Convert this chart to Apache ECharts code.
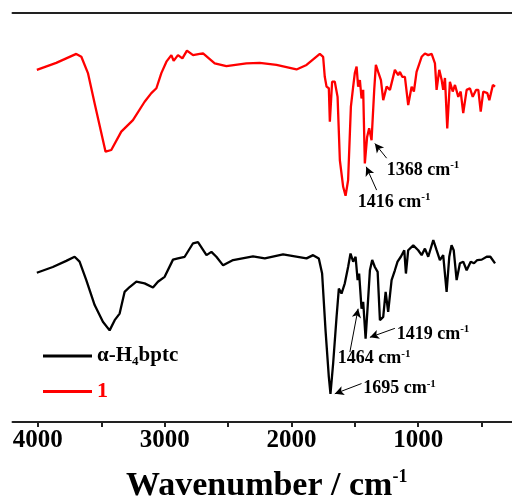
<!DOCTYPE html>
<html><head><meta charset="utf-8">
<script src="https://cdn.jsdelivr.net/npm/echarts@6/dist/echarts.min.js"></script>
<style>html,body{margin:0;padding:0;background:#fff}#c{width:512px;height:497px}</style>
</head><body><div id="c"></div>
<script>
// Wavenumber (cm-1) and relative transmittance (a.u.)
const redWn = [4008,3855,3697,3657,3605,3552,3499,3466,3421,3342,3250,3158,3105,3065,3026,2986,2947,2929,2895,2860,2824,2776,2723,2697,2605,2513,2355,2250,2118,1960,1881,1776,1750,1737,1723,1705,1697,1679,1658,1636,1618,1592,1573,1553,1531,1513,1500,1486,1474,1460,1447,1434,1421,1403,1387,1368,1347,1334,1316,1294,1276,1249,1223,1184,1158,1144,1126,1105,1079,1052,1034,1013,973,947,921,894,868,855,834,815,803,789,771,750,728,710,684,665,645,618,592,570,544,526,507,487,455,439,411,394];
const redT  = [86.1,87.8,90.0,89.3,85.3,77.9,70.6,66.1,66.5,71.0,73.8,78.3,80.4,81.6,85.3,88.1,89.7,88.3,89.7,88.9,90.8,89.7,90.0,90.1,87.7,87.0,87.7,87.8,87.3,86.2,87.3,90.0,89.3,84.4,82.0,81.6,73.4,83.2,83.2,79.5,64.0,57.5,55.3,59.1,77.1,82.0,85.3,86.9,82.0,83.6,79.1,81.2,63.2,69.7,71.8,68.9,81.2,87.3,85.6,83.6,78.7,82.0,81.2,86.1,84.8,85.6,84.4,84.4,77.5,82.0,80.8,85.6,89.3,90.1,89.7,90.0,87.7,81.2,86.1,83.6,81.2,84.1,71.8,83.2,80.8,82.4,79.5,80.8,75.5,81.2,81.6,79.5,81.2,81.2,75.9,80.8,80.4,78.7,82.4,82.0];
const blackWn = [4008,3882,3776,3710,3671,3618,3552,3487,3434,3394,3355,3316,3276,3223,3158,3092,3053,3000,2934,2895,2842,2776,2737,2670,2631,2592,2539,2460,2303,2210,2066,1881,1829,1784,1758,1731,1705,1692,1671,1644,1626,1605,1579,1553,1534,1513,1494,1478,1466,1447,1434,1415,1399,1381,1363,1342,1320,1302,1276,1257,1237,1210,1184,1163,1137,1110,1097,1079,1039,1000,973,947,921,881,855,829,803,776,755,737,720,697,671,645,618,586,560,534,499,460,431,394];
const blackT  = [36.5,37.9,39.4,40.4,39.2,34.7,28.6,24.5,22.4,24.9,26.5,31.8,33.0,34.3,33.9,32.9,34.3,35.5,39.7,40.0,40.4,43.7,44.0,40.8,41.6,40.4,38.3,39.6,40.5,40.0,41.0,40.0,40.8,40.0,36.3,22.4,11.0,6.9,14.3,25.7,32.6,31.4,33.9,37.9,41.2,39.2,40.4,34.7,36.3,27.7,29.4,20.4,28.1,37.1,39.6,37.9,36.7,24.9,25.7,31.8,26.9,34.7,37.1,39.2,40.4,42.0,36.3,42.0,43.2,42.0,40.8,42.4,40.4,44.5,42.0,39.6,40.8,31.8,40.4,43.2,42.0,34.7,38.8,39.2,37.1,39.2,38.8,39.6,39.7,40.4,40.4,38.8];
const seriesNames = ['α-H4bptc', '1'];
const xTickValues = [500,1000,1500,2000,2500,3000,3500,4000];
const xLabelValues = [1000,2000,3000,4000];
// annotations: label text, label anchor [wn, T], arrow tail [wn, T], arrow head [wn, T]
const annoText = ['1368','1416','1419','1464','1695'];
const annoPos  = [[1249,61.6],[1476,53.8],[1170,21.5],[1634,15.5],[1434,8.2]];
const arrowFrom = [[1249,64.5],[1328,56.7],[1184,22.9],[1539,17.1],[1447,9.4]];
const arrowTo   = [[1342,68.1],[1410,62.4],[1381,20.7],[1474,27.7],[1658,6.9]];

const serif = '"Liberation Serif","DejaVu Serif",serif';
const chart = echarts.init(document.getElementById('c'));
const zip = (a,b) => a.map((v,i)=>[v,b[i]]);
chart.setOption({
  animation: false,
  backgroundColor: '#fff',
  grid: {left: 12.5, top: 13, bottom: 75, width: 532.5, containLabel: false, outerBoundsMode: 'none'},
  legend: {
    orient: 'vertical', left: 38, top: 340.5, padding: 5, itemWidth: 49, itemHeight: 3, itemGap: 12,
    icon: 'rect',
    data: seriesNames,
    formatter: n => n === seriesNames[0] ? '{a|α-H}{sub|4}{a|bptc}' : '{r|1}',
    textStyle: {
      rich: {
        a: {fontSize: 21, fontWeight: 'bold', fontFamily: serif, color: '#000', lineHeight: 25},
        sub: {fontSize: 13, fontWeight: 'bold', fontFamily: serif, color: '#000', verticalAlign: 'bottom', lineHeight: 13},
        r: {fontSize: 22, fontWeight: 'bold', fontFamily: serif, color: '#ff0000', lineHeight: 25}
      }
    }
  },
  xAxis: [{
    type: 'value', min: 0, max: 4200, inverse: true, position: 'bottom',
    axisLine: {show: true, lineStyle: {color: '#222', width: 2}},
    axisTick: {show: true, inside: false, length: 5, customValues: xTickValues, lineStyle: {color: '#222', width: 2}},
    axisLabel: {customValues: xLabelValues, formatter: v => String(v), margin: 6, fontSize: 25, fontWeight: 'bold', fontFamily: serif, color: '#000'},
    splitLine: {show: false},
    name: '{t|Wavenumber / cm}{s|-1}', nameLocation: 'middle', nameGap: 46,
    nameTextStyle: {padding: [0, 24, 0, 0], rich: {
      t: {fontSize: 34, fontWeight: 'bold', fontFamily: serif, color: '#000', lineHeight: 36},
      s: {fontSize: 18, fontWeight: 'bold', fontFamily: serif, color: '#000', verticalAlign: 'top', lineHeight: 18}
    }}
  }, {
    type: 'value', min: 0, max: 4200, inverse: true, position: 'top',
    axisLine: {show: true, lineStyle: {color: '#222', width: 2}},
    axisTick: {show: false}, axisLabel: {show: false}, splitLine: {show: false}
  }],
  yAxis: [{
    type: 'value', min: 0, max: 100,
    axisLine: {show: true, lineStyle: {color: '#222', width: 2}},
    axisTick: {show: false}, axisLabel: {show: false}, splitLine: {show: false}
  }],
  series: [{
    name: seriesNames[0], type: 'line', data: zip(blackWn, blackT), symbol: 'none',
    lineStyle: {color: '#000', width: 2.3}, itemStyle: {color: '#000'},
    markLine: {
      silent: true, symbol: ['none', 'arrow'], symbolSize: [7, 9],
      lineStyle: {color: '#000', width: 1, type: 'solid'}, label: {show: false},
      data: arrowFrom.map((f,i)=>[{coord: f}, {coord: arrowTo[i]}])
    }
  }, {
    name: seriesNames[1], type: 'line', data: zip(redWn, redT), symbol: 'none',
    lineStyle: {color: '#ff0000', width: 2.3}, itemStyle: {color: '#ff0000'}
  }, {
    name: 'anno', type: 'scatter', symbolSize: 0, silent: true,
    itemStyle: {opacity: 1, color: '#000'},
    data: annoPos.map((p,i)=>[p[0], p[1], annoText[i]]),
    label: {show: true, opacity: 1, position: 'right', distance: 0, color: '#000', fontWeight: 'bold', fontSize: 18, fontFamily: serif,
      formatter: p => '{t|' + p.data[2] + ' cm}{s|-1}',
      rich: {
        t: {fontSize: 18, fontWeight: 'bold', fontFamily: serif, color: '#000', lineHeight: 20},
        s: {fontSize: 11, fontWeight: 'bold', fontFamily: serif, color: '#000', verticalAlign: 'top', lineHeight: 11}
      }}
  }]
});
</script></body></html>
